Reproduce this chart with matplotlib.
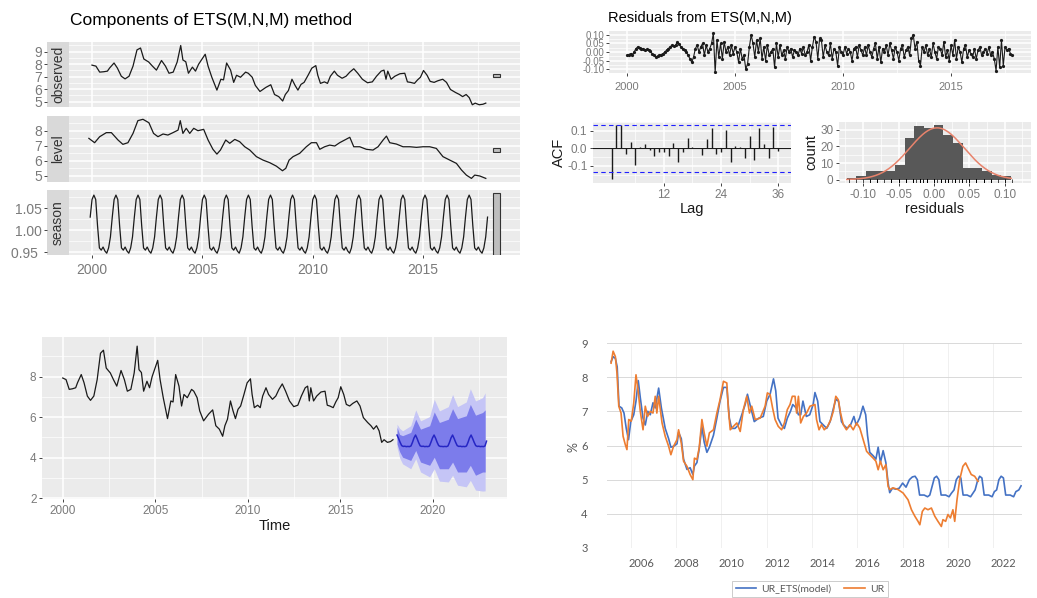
import matplotlib
matplotlib.use("Agg")
import matplotlib.pyplot as plt
from matplotlib.patches import Rectangle
from matplotlib.lines import Line2D
import numpy as np

# ---------------- data ----------------
obs_t = [2000.0, 2000.18, 2000.35, 2000.53, 2000.7, 2000.8,
         2001.0, 2001.15, 2001.33, 2001.5, 2001.68, 2001.86,
         2002.04, 2002.2, 2002.35, 2002.57, 2002.74, 2002.92,
         2003.15, 2003.33, 2003.49, 2003.68, 2003.86,
         2004.02, 2004.12, 2004.25, 2004.37, 2004.55, 2004.69, 2004.83,
         2005.13, 2005.26, 2005.43, 2005.66, 2005.84, 2005.96,
         2006.1, 2006.28, 2006.42, 2006.55, 2006.73, 2006.96,
         2007.08, 2007.26, 2007.4, 2007.61, 2007.88,
         2008.1, 2008.27, 2008.46, 2008.64, 2008.76, 2008.9,
         2009.06, 2009.2, 2009.33, 2009.47, 2009.61, 2009.79, 2009.96,
         2010.14, 2010.23, 2010.35, 2010.53, 2010.67, 2010.8, 2010.98,
         2011.12, 2011.33, 2011.51, 2011.68, 2011.86,
         2012.04, 2012.25, 2012.48, 2012.7, 2012.89,
         2013.1, 2013.23, 2013.32, 2013.4, 2013.55, 2013.72, 2013.95,
         2014.17, 2014.29, 2014.43, 2014.61, 2014.75, 2014.88,
         2015.02, 2015.18, 2015.32, 2015.5, 2015.67, 2015.89,
         2016.06, 2016.24, 2016.47, 2016.65, 2016.79, 2016.95,
         2017.09, 2017.23, 2017.36, 2017.54, 2017.71, 2017.84]
obs_v = [7.93, 7.85, 7.37, 7.4, 7.45, 7.7,
         8.1, 7.7, 7.04, 6.83, 7.04, 7.85,
         9.15, 9.3, 8.42, 8.18, 7.85, 7.53,
         8.3, 7.85, 7.28, 7.37, 8.18,
         9.5, 8.34, 8.2, 7.28, 7.77, 7.45, 8.0,
         8.8, 7.85, 6.96, 5.93, 6.8, 6.75,
         8.1, 7.53, 6.55, 7.12, 6.96, 7.37,
         7.28, 6.96, 6.31, 5.82, 6.15,
         6.36, 5.58, 5.41, 5.06, 5.58, 5.9,
         6.8, 6.31, 5.93, 6.39, 6.55, 7.12, 7.69,
         7.89, 7.12, 6.47, 6.59, 6.47, 7.04, 7.45,
         7.12, 6.88, 7.04, 7.37, 7.64,
         7.28, 6.8, 6.52, 6.59, 7.04,
         7.45, 7.53, 6.8, 7.45, 6.8, 7.04, 7.24,
         7.28, 6.59, 6.55, 6.47, 6.75, 6.96,
         7.5, 7.12, 6.63, 6.55, 6.68, 6.8,
         6.55, 5.98, 5.74, 5.58, 5.41, 5.58,
         5.33, 4.76, 4.89, 4.76, 4.8, 4.89]

level_t = [1999.86, 2000.12, 2000.35, 2000.65, 2000.88, 2001.18, 2001.4, 2001.63, 2001.86,
           2002.08, 2002.31, 2002.58, 2002.79, 2002.99, 2003.22, 2003.44, 2003.67, 2003.9,
           2004.0, 2004.12, 2004.27, 2004.43, 2004.61, 2004.8, 2005.06, 2005.26, 2005.48,
           2005.66, 2005.82, 2006.06, 2006.24, 2006.47, 2006.69, 2006.92, 2007.15, 2007.45,
           2007.75, 2008.05, 2008.35, 2008.63, 2008.78, 2008.93, 2009.11, 2009.41, 2009.71,
           2009.94, 2010.17, 2010.32, 2010.54, 2010.77, 2011.0, 2011.22, 2011.45, 2011.68,
           2011.86, 2012.13, 2012.43, 2012.73, 2012.96, 2013.19, 2013.34, 2013.49, 2013.79,
           2014.09, 2014.4, 2014.7, 2015.0, 2015.3, 2015.6, 2015.9, 2016.21, 2016.51,
           2016.74, 2016.96, 2017.19, 2017.34, 2017.57, 2017.84]
level_v = [7.49, 7.2, 7.6, 7.87, 7.87, 7.38, 7.09, 7.2, 7.82,
           8.67, 8.76, 8.53, 7.82, 7.6, 7.78, 7.71, 7.87, 8.04,
           8.67, 7.82, 8.16, 7.82, 8.16, 8.0, 8.09, 7.38, 6.76,
           6.44, 6.71, 7.38, 7.16, 7.42, 7.27, 6.93, 6.71, 6.27,
           6.04, 5.87, 5.64, 5.33, 5.49, 6.04, 6.27, 6.49, 6.93,
           7.2, 7.2, 6.76, 6.93, 7.04, 6.98, 7.2, 7.38, 7.56,
           6.93, 6.93, 6.76, 6.71, 6.93, 7.38, 7.64, 7.2, 7.11,
           6.93, 6.93, 6.89, 6.93, 6.93, 6.82, 6.27, 6.04, 5.82,
           5.38, 5.04, 4.82, 5.04, 4.98, 4.82]

# seasonal index by calendar month (Jan..Dec), identical every year
season_pattern = [1.07, 1.08, 1.07, 1.01, 0.96, 0.955, 0.962, 0.953, 0.948, 0.96, 0.985, 1.03]
season_start = 1999.92   # Dec 1999
season_years = 18

# residuals, monthly from Jan 2000
residuals = [
    -0.02, -0.015, -0.01, -0.02, 0.0, 0.02, 0.03, 0.025, 0.015, 0.02, 0.01, 0.015,
    0.01, 0.005, -0.01, -0.02, -0.03, -0.025, -0.02, -0.015, -0.01, 0.0, 0.01, 0.02,
    0.03, 0.04, 0.035, 0.04, 0.06, 0.045, 0.03, 0.02, 0.01, 0.0, -0.02, -0.04,
    -0.06, -0.03, 0.02, 0.04, 0.0, 0.03, 0.05, -0.02, 0.04, 0.0, 0.02, 0.05,
    0.11, -0.12, 0.07, -0.03, 0.05, -0.04, 0.06, 0.0, 0.03, -0.02, 0.04, -0.01,
    0.03, 0.0, -0.06, 0.02, -0.04, -0.02, -0.10, -0.07, 0.03, 0.10, 0.05, -0.03,
    0.07, 0.0, 0.08, -0.04, 0.03, -0.05, 0.04, -0.02, 0.0, 0.02, -0.09, 0.05,
    -0.03, 0.04, -0.02, 0.01, -0.04, 0.03, 0.0, 0.02, -0.03, 0.01, 0.0, -0.02,
    0.02, -0.01, 0.03, -0.02, 0.0, 0.04, -0.05, 0.03, 0.09, 0.06, -0.04, 0.08,
    0.07, -0.03, 0.04, 0.0, -0.02, 0.05, -0.04, 0.02, 0.0, -0.08, 0.03, 0.0,
    -0.02, 0.03, -0.01, 0.02, 0.0, -0.05, 0.02, 0.03, -0.03, 0.04, 0.01, -0.02,
    0.03, -0.02, 0.04, 0.0, -0.03, 0.02, 0.05, -0.04, 0.03, -0.06, 0.02, 0.0,
    0.04, -0.02, 0.05, 0.01, -0.04, 0.03, 0.0, -0.05, 0.02, 0.04, -0.03, 0.01,
    0.03, -0.02, 0.08, 0.10, 0.02, 0.06, -0.05, -0.08, 0.03, 0.0, 0.04, -0.02,
    0.02, -0.03, 0.05, 0.0, -0.04, 0.03, 0.02, -0.02, 0.06, -0.03, 0.01, -0.05,
    0.04, -0.02, 0.07, -0.04, 0.03, 0.0, -0.06, 0.02, 0.04, -0.03, 0.01, -0.01,
    -0.03, 0.02, -0.04, 0.01, 0.03, -0.02, 0.0, 0.02, -0.01, 0.03, -0.02, 0.0,
    -0.04, -0.11, 0.03, -0.09, 0.07, -0.08, 0.03, 0.01, 0.02, -0.01, -0.02]
resid_start = 2000.0

acf_values = [-0.175, 0.133, 0.133, -0.034, 0.038, -0.095, 0.006, 0.025, -0.011, -0.044,
              -0.023, -0.023, -0.042, 0.034, -0.076, -0.023, 0.061, 0.006, 0.0, -0.038,
              0.053, 0.114, -0.029, -0.023, 0.105, -0.08, 0.015, 0.01, -0.057, 0.07,
              -0.067, 0.118, 0.023, -0.053, 0.124, -0.015]
acf_bound = 0.136

hist_counts = [1, 2, 5, 5, 5, 9, 25, 32, 31, 33, 27, 22, 7, 7, 5, 3, 2]
hist_lo, hist_hi = -0.123, 0.109

# point forecast, monthly from Jan 2018
fc_start = 2018.06
fc_mean = [5.12, 4.95, 4.76, 4.60, 4.56, 4.57, 4.55, 4.56, 4.55, 4.58, 4.76, 4.98,
           5.12, 4.95, 4.75, 4.59, 4.56, 4.57, 4.55, 4.56, 4.55, 4.58, 4.77, 4.98,
           5.12, 4.96, 4.76, 4.60, 4.56, 4.56, 4.55, 4.56, 4.55, 4.58, 4.76, 4.98,
           5.12, 4.95, 4.76, 4.60, 4.56, 4.57, 4.55, 4.56, 4.55, 4.58, 4.76, 4.98,
           5.12, 4.95, 4.76, 4.60, 4.56, 4.57, 4.55, 4.56, 4.55, 4.58, 4.82]
band_t = [2018.06, 2018.2, 2018.36, 2018.8, 2019.07, 2019.33, 2019.82, 2020.07, 2020.35,
          2020.83, 2021.06, 2021.33, 2021.8, 2022.02, 2022.3, 2022.68, 2022.82]
hi95 = [5.66, 5.45, 5.33, 5.58, 6.36, 5.82, 6.03, 6.88, 6.31, 6.52, 7.12, 6.52, 6.75, 7.4, 6.8, 6.96, 7.2]
hi80 = [5.5, 5.15, 5.09, 5.25, 5.9, 5.41, 5.58, 6.26, 5.74, 5.9, 6.42, 5.93, 6.07, 6.63, 6.1, 6.23, 6.36]
lo80 = [4.68, 4.3, 4.03, 3.87, 4.36, 3.79, 3.63, 4.03, 3.46, 3.46, 3.79, 3.3, 3.3, 3.63, 3.14, 3.3, 3.3]
lo95 = [4.52, 4.0, 3.7, 3.46, 3.95, 3.3, 3.06, 3.46, 2.85, 2.81, 3.14, 2.65, 2.57, 2.89, 2.41, 2.36, 2.37]

ur_t = [2004.68, 2004.77, 2004.87, 2004.94, 2005.02, 2005.12, 2005.21, 2005.31, 2005.38, 2005.46,
        2005.57, 2005.68, 2005.78, 2005.87, 2005.97, 2006.09, 2006.19, 2006.29, 2006.41, 2006.53,
        2006.63, 2006.7, 2006.78, 2006.93, 2007.07, 2007.22, 2007.32, 2007.44, 2007.59, 2007.66,
        2007.78, 2007.88, 2008.03, 2008.17, 2008.29, 2008.36, 2008.47, 2008.57, 2008.69, 2008.79,
        2008.91, 2009.02, 2009.2, 2009.35, 2009.49, 2009.64, 2009.79, 2009.86, 2009.94, 2010.08,
        2010.23, 2010.38, 2010.52, 2010.67, 2010.79, 2010.89, 2011.04, 2011.26, 2011.48, 2011.58,
        2011.7, 2011.81, 2011.92, 2012.06, 2012.21, 2012.33, 2012.46, 2012.58, 2012.68, 2012.8,
        2012.87, 2012.95, 2013.05, 2013.17, 2013.31, 2013.46, 2013.68, 2013.75, 2013.86, 2013.97,
        2014.09, 2014.24, 2014.38, 2014.49, 2014.6, 2014.71, 2014.81, 2014.93, 2015.07, 2015.22,
        2015.37, 2015.52, 2015.66, 2015.81, 2015.96, 2016.1, 2016.25, 2016.37, 2016.47, 2016.57,
        2016.69, 2016.81, 2016.91, 2016.98, 2017.13, 2017.35, 2017.57, 2017.79, 2017.94, 2018.09,
        2018.23, 2018.31, 2018.42, 2018.53, 2018.67, 2018.82, 2018.97, 2019.11, 2019.26, 2019.33,
        2019.45, 2019.55, 2019.66, 2019.77, 2019.85, 2019.95, 2020.07, 2020.21, 2020.33, 2020.48,
        2020.58, 2020.73, 2020.88]
ur_v = [8.41, 8.76, 8.6, 8.12, 7.15, 6.95, 6.27, 6.02, 5.88, 6.76,
        6.71, 7.24, 8.07, 7.63, 7.0, 6.46, 7.15, 6.85, 7.0, 6.95,
        7.44, 6.95, 7.44, 6.66, 6.27, 5.98, 5.73, 5.98, 6.17, 6.46,
        6.07, 5.54, 5.39, 5.15, 5.0, 5.63, 5.59, 5.93, 6.76, 6.37,
        5.98, 6.37, 6.46, 6.95, 7.34, 7.88, 7.83, 7.05, 6.46, 6.56,
        6.66, 6.41, 7.05, 7.44, 6.95, 7.15, 6.76, 6.8, 7.15, 7.54,
        7.49, 7.1, 6.76, 6.56, 6.46, 6.66, 7.05, 7.2, 7.44, 7.44,
        6.95, 7.44, 6.66, 6.85, 6.95, 7.15, 7.2, 6.76, 6.46, 6.61,
        6.46, 6.56, 6.76, 7.0, 7.44, 7.34, 6.95, 6.61, 6.46, 6.61,
        6.46, 6.66, 6.51, 6.17, 5.83, 5.73, 5.63, 5.54, 5.29, 5.54,
        5.29, 5.44, 4.8, 4.71, 4.76, 4.71, 4.61, 4.41, 4.12, 3.93,
        3.78, 3.68, 4.07, 4.17, 4.12, 4.17, 3.93, 3.78, 3.63, 3.83,
        3.78, 3.98, 3.88, 4.12, 3.78, 4.41, 5.0, 5.39, 5.49, 5.29,
        5.15, 5.1, 4.95]

ets_t = [2004.68, 2004.77, 2004.87, 2004.95, 2005.03, 2005.15, 2005.25, 2005.35, 2005.45, 2005.55,
         2005.68, 2005.78, 2005.88, 2005.97, 2006.09, 2006.19, 2006.3, 2006.41, 2006.53, 2006.63,
         2006.78, 2006.9, 2007.07, 2007.22, 2007.32, 2007.45, 2007.59, 2007.66, 2007.78, 2007.88,
         2008.03, 2008.17, 2008.29, 2008.36, 2008.47, 2008.57, 2008.69, 2008.79, 2008.91, 2009.02,
         2009.2, 2009.35, 2009.49, 2009.64, 2009.79, 2009.9, 2010.0, 2010.15, 2010.3, 2010.45,
         2010.6, 2010.7, 2010.85, 2011.0, 2011.2, 2011.4, 2011.55, 2011.7, 2011.85, 2011.95,
         2012.05, 2012.2, 2012.33, 2012.46, 2012.6, 2012.7, 2012.85, 2012.95, 2013.05, 2013.15,
         2013.3, 2013.45, 2013.6, 2013.68, 2013.8, 2013.9, 2014.05, 2014.2, 2014.35, 2014.5,
         2014.6, 2014.72, 2014.85, 2014.95, 2015.1, 2015.25, 2015.4, 2015.5, 2015.65, 2015.8,
         2015.92, 2016.0, 2016.1, 2016.25, 2016.37, 2016.47, 2016.57, 2016.69, 2016.81, 2016.91,
         2016.98, 2017.1, 2017.25, 2017.4, 2017.55, 2017.7, 2017.85, 2017.98, 2018.1, 2018.2,
         2018.3, 2018.5, 2018.65, 2018.75, 2018.85, 2018.95, 2019.05, 2019.15, 2019.25, 2019.45,
         2019.6, 2019.7, 2019.82, 2019.92, 2020.02, 2020.12, 2020.22, 2020.4, 2020.55, 2020.65,
         2020.75, 2020.85, 2020.95, 2021.05, 2021.15, 2021.35, 2021.5, 2021.6, 2021.7, 2021.8,
         2021.9, 2022.0, 2022.1, 2022.3, 2022.45, 2022.55, 2022.68, 2022.78]
ets_v = [8.45, 8.6, 8.55, 8.3, 7.15, 7.1, 6.95, 6.5, 6.17, 6.7,
         6.9, 7.3, 7.9, 7.4, 6.8, 6.6, 7.0, 6.9, 7.25, 7.1,
         7.68, 7.1, 6.5, 6.2, 5.95, 5.98, 6.05, 6.38, 6.2, 5.6,
         5.3, 5.35, 5.15, 5.4, 5.5, 5.9, 6.55, 6.1, 5.8, 5.95,
         6.3, 6.8, 7.3, 7.7, 7.7, 6.8, 6.5, 6.5, 6.6, 6.9,
         7.2, 7.5, 7.1, 6.7, 6.8, 6.85, 7.3, 7.5, 7.95, 7.6,
         6.8, 6.6, 6.5, 6.8, 7.0, 7.2, 7.1, 6.9, 6.9, 7.3,
         6.85, 6.9, 7.2, 7.55, 7.3, 6.7, 6.6, 6.5, 6.7, 7.1,
         7.35, 7.3, 6.7, 6.6, 6.5, 6.6, 6.85, 6.6, 6.8, 7.15,
         6.9, 6.3, 5.8, 5.7, 5.6, 5.95, 5.5, 5.85, 5.5, 4.9,
         4.62, 4.75, 4.72, 4.75, 4.9, 4.78, 5.0, 5.08, 5.1, 5.0,
         4.55, 4.55, 4.5, 4.55, 4.8, 5.05, 5.1, 5.0, 4.55, 4.55,
         4.5, 4.6, 4.7, 5.0, 5.1, 5.05, 4.55, 4.55, 4.5, 4.6,
         4.7, 4.95, 5.1, 5.05, 4.55, 4.55, 4.5, 4.65, 4.7, 5.0,
         5.1, 5.05, 4.55, 4.55, 4.5, 4.65, 4.7, 4.82]

for a, b in [(obs_t, obs_v), (level_t, level_v), (ur_t, ur_v), (ets_t, ets_v),
             (band_t, hi95), (band_t, hi80), (band_t, lo80), (band_t, lo95)]:
    assert len(a) == len(b), (len(a), len(b))

# ---------------- figure ----------------
W, H = 1037, 598
fig = plt.figure(figsize=(W / 100, H / 100), dpi=100)
fig.patch.set_facecolor('white')

GG_BG = '#EBEBEB'
TICK_TXT = '#7a7a7a'
FONT = 'Liberation Sans'
plt.rcParams['font.family'] = [FONT, 'DejaVu Sans']


def ax_px(x0, y0, x1, y1):
    return fig.add_axes([x0 / W, 1 - y1 / H, (x1 - x0) / W, (y1 - y0) / H])


def gg(ax, xmaj, xmin, ymaj, ymin, fs=8):
    ax.set_facecolor(GG_BG)
    for s in ax.spines.values():
        s.set_visible(False)
    ax.set_xticks(xmaj)
    ax.set_xticks(xmin, minor=True)
    ax.set_yticks(ymaj)
    ax.set_yticks(ymin, minor=True)
    ax.grid(True, which='major', color='white', lw=1.1)
    ax.grid(True, which='minor', color='white', lw=0.5)
    ax.set_axisbelow(True)
    ax.tick_params(which='major', length=2.5, width=0.7, color='#444444',
                   labelcolor=TICK_TXT, labelsize=fs, pad=1.5)
    ax.tick_params(which='minor', length=0)


# ---------- top-left: components ----------
fig.text(70 / W, 1 - 20 / H, 'Components of ETS(M,N,M) method', fontsize=12.5,
         va='center', ha='left', color='black')

x_lim_c = (1998.96, 2019.39)
season_t = [season_start + i / 12 for i in range(12 * season_years + 1)]
season_v = [season_pattern[(11 + i) % 12] for i in range(12 * season_years + 1)]

comp_specs = [
    ('observed', 42, 107, (4.58, 9.78), [5, 6, 7, 8, 9], [5.5, 6.5, 7.5, 8.5, 9.5],
     ['5', '6', '7', '8', '9'], obs_t, obs_v, (6.98, 7.22)),
    ('level', 116, 182, (4.58, 8.98), [5, 6, 7, 8], [5.5, 6.5, 7.5, 8.5],
     ['5', '6', '7', '8'], level_t, level_v, (6.58, 6.85)),
    ('season', 190, 255, (0.9439, 1.0916), [0.95, 1.0, 1.05], [0.975, 1.025, 1.075],
     ['0.95 ', '1.00', '1.05'], season_t, season_v, (0.945, 1.085)),
]
for i, (name, y0, y1, ylim, ymaj, ymin, ylab, tx, vy, bar) in enumerate(comp_specs):
    ax = ax_px(69, y0, 520, y1)
    gg(ax, [2000, 2005, 2010, 2015], [2002.5, 2007.5, 2012.5, 2017.5], ymaj, ymin, fs=9.5)
    ax.plot(tx, vy, color='#1a1a1a', lw=0.9)
    ax.set_xlim(*x_lim_c)
    ax.set_ylim(*ylim)
    ax.add_patch(Rectangle((2018.17, bar[0]), 0.33, bar[1] - bar[0],
                           facecolor='#BEBEBE', edgecolor='#333333', lw=0.8))
    ax.tick_params(axis='y', length=0, labelleft=False)
    if i < 2:
        ax.tick_params(axis='x', length=0, labelbottom=False)
    else:
        ax.tick_params(axis='x', labelsize=10, pad=3)
    st = ax_px(47, y0, 69, y1)
    st.set_facecolor('#D9D9D9')
    for s in st.spines.values():
        s.set_visible(False)
    st.set_xticks([])
    st.set_ylim(*ylim)
    st.set_yticks(ymaj)
    st.set_yticklabels(ylab)
    st.tick_params(axis='y', length=2.5, width=0.7, color='#444444',
                   labelcolor=TICK_TXT, labelsize=10, pad=1)
    st.text(0.5, 0.5, name, rotation=90, transform=st.transAxes, ha='center',
            va='center', fontsize=10, color='#333333')

# ---------- top-right: residuals ----------
fig.text(608 / W, 1 - 18 / H, 'Residuals from ETS(M,N,M)', fontsize=10.5,
         va='center', ha='left', color='black')
ax = ax_px(609, 31, 1031, 73)
gg(ax, [2000, 2005, 2010, 2015], [2002.5, 2007.5, 2012.5, 2017.5],
   [-0.10, -0.05, 0.0, 0.05, 0.10], [-0.075, -0.025, 0.025, 0.075], fs=7.5)
res_t = [resid_start + i / 12 for i in range(len(residuals))]
ax.plot(res_t, residuals, color='#1a1a1a', lw=0.8, marker='o', ms=1.3)
ax.set_xlim(1999.17, 2018.7)
ax.set_ylim(-0.1235, 0.1235)
ax.set_yticklabels(['-0.10', '-0.05', '0.00', '0.05', '0.10'])
ax.tick_params(axis='y', labelsize=7, pad=1)
ax.tick_params(axis='x', labelsize=8, pad=4)

# ACF
ax = ax_px(593, 122, 791, 183)
gg(ax, [12, 24, 36], [6, 18, 30], [-0.1, 0.0, 0.1], [-0.15, -0.05, 0.05, 0.15], fs=8.5)
lags = list(range(1, len(acf_values) + 1))
ax.vlines(lags, 0, acf_values, color='#1a1a1a', lw=1.0)
ax.axhline(0, color='#1a1a1a', lw=0.8)
for b in (acf_bound, -acf_bound):
    ax.axhline(b, color='#2020ff', lw=0.8, ls=(0, (4, 3)))
ax.set_xlim(-2.9, 38.7)
ax.set_ylim(-0.197, 0.151)
ax.set_yticklabels(['-0.1', '0.0', '0.1'])
ax.set_xlabel('Lag', fontsize=10.5, color='#1a1a1a', labelpad=1)
ax.set_ylabel('ACF', fontsize=10.5, color='#1a1a1a', labelpad=1)

# histogram
ax = ax_px(839, 122, 1031, 183)
gg(ax, [-0.10, -0.05, 0.0, 0.05, 0.10], [-0.125, -0.075, -0.025, 0.025, 0.075, 0.125],
   [0, 10, 20, 30], [5, 15, 25], fs=8.5)
edges = np.linspace(hist_lo, hist_hi, len(hist_counts) + 1)
ax.stairs(hist_counts, edges, fill=True, color='#585858')
res_arr = np.array(residuals)
bw = edges[1] - edges[0]
xs = np.linspace(hist_lo, hist_hi, 200)
mu, sd = res_arr.mean(), 0.0387
dens = sum(hist_counts) * bw * np.exp(-0.5 * ((xs - mu) / sd) ** 2) / (sd * np.sqrt(2 * np.pi))
ax.plot(xs, dens, color='#E8836C', lw=1.1)
ax.vlines(residuals, -2.0, 0.2, color='black', lw=0.5)
ax.set_xlim(-0.134, 0.137)
ax.set_ylim(-2.0, 34.6)
ax.set_xticklabels(['-0.10', '-0.05', '0.00', '0.05', '0.10'])
ax.set_xlabel('residuals', fontsize=10.5, color='#1a1a1a', labelpad=1)
ax.set_ylabel('count', fontsize=10.5, color='#1a1a1a', labelpad=1)

# ---------- bottom-left: forecast ----------
ax = ax_px(42, 337, 507, 499)
gg(ax, [2000, 2005, 2010, 2015, 2020], [2002.5, 2007.5, 2012.5, 2017.5, 2022.5],
   [2, 4, 6, 8], [3, 5, 7, 9], fs=8.5)
ax.fill_between(band_t, lo95, hi95, color='#C5C5F6', lw=0)
ax.fill_between(band_t, lo80, hi80, color='#7C7CEB', lw=0)
fc_t = [fc_start + i / 12 for i in range(len(fc_mean))]
ax.plot(fc_t, fc_mean, color='#2626C4', lw=1.1)
ax.plot(obs_t, obs_v, color='#1a1a1a', lw=0.9)
ax.set_xlim(1998.88, 2024.0)
ax.set_ylim(1.97, 9.95)
ax.set_xlabel('Time', fontsize=10.5, color='#1a1a1a', labelpad=2)

# ---------- bottom-right: Excel-style comparison ----------
BLUE = '#4472C4'
ORANGE = '#ED7D31'
XL_TXT = '#595959'
ax = ax_px(607, 343, 1022, 548)
ax.set_facecolor('white')
for s in ax.spines.values():
    s.set_visible(False)
ax.set_xlim(2004.5, 2022.82)
ax.set_ylim(3, 9)
ax.set_yticks([3, 4, 5, 6, 7, 8, 9])
ax.set_xticks([2006, 2008, 2010, 2012, 2014, 2016, 2018, 2020, 2022])
ax.set_xticks([2005.55, 2007.55, 2009.55, 2011.55, 2013.55, 2015.55, 2017.55, 2019.55, 2021.55],
              minor=True)
ax.grid(True, axis='y', which='major', color='#D9D9D9', lw=0.7)
ax.grid(True, axis='x', which='minor', color='#EEEEEE', lw=0.6)
ax.tick_params(which='both', length=0)
ax.tick_params(axis='y', labelsize=8, labelcolor=XL_TXT, pad=14)
ax.tick_params(axis='x', labelsize=8, labelcolor=XL_TXT, pad=7)
for lab in ax.get_xticklabels() + ax.get_yticklabels():
    lab.set_fontfamily('Lato')
ax.plot(ets_t, ets_v, color=BLUE, lw=1.2, solid_joinstyle='round')
ax.plot(ur_t, ur_v, color=ORANGE, lw=1.2, solid_joinstyle='round')
fig.text(573 / W, 1 - 447 / H, '%', rotation=90, fontsize=9, color=XL_TXT,
         family='Lato', ha='center', va='center')
handles = [Line2D([], [], color=BLUE, lw=1.2), Line2D([], [], color=ORANGE, lw=1.2)]
leg = fig.legend(handles, ['UR_ETS(model)', 'UR'], loc='center',
                 bbox_to_anchor=(810 / W, 1 - 589 / H), ncol=2, frameon=True,
                 fancybox=False, fontsize=7.5, handlelength=2.0, columnspacing=1.2,
                 borderpad=0.3, handletextpad=0.5, prop={'family': 'Lato', 'size': 7.5})
leg.get_frame().set_edgecolor('#BFBFBF')
leg.get_frame().set_linewidth(0.7)
for t in leg.get_texts():
    t.set_color(XL_TXT)

fig.savefig('out.png', dpi=100, facecolor='white')
